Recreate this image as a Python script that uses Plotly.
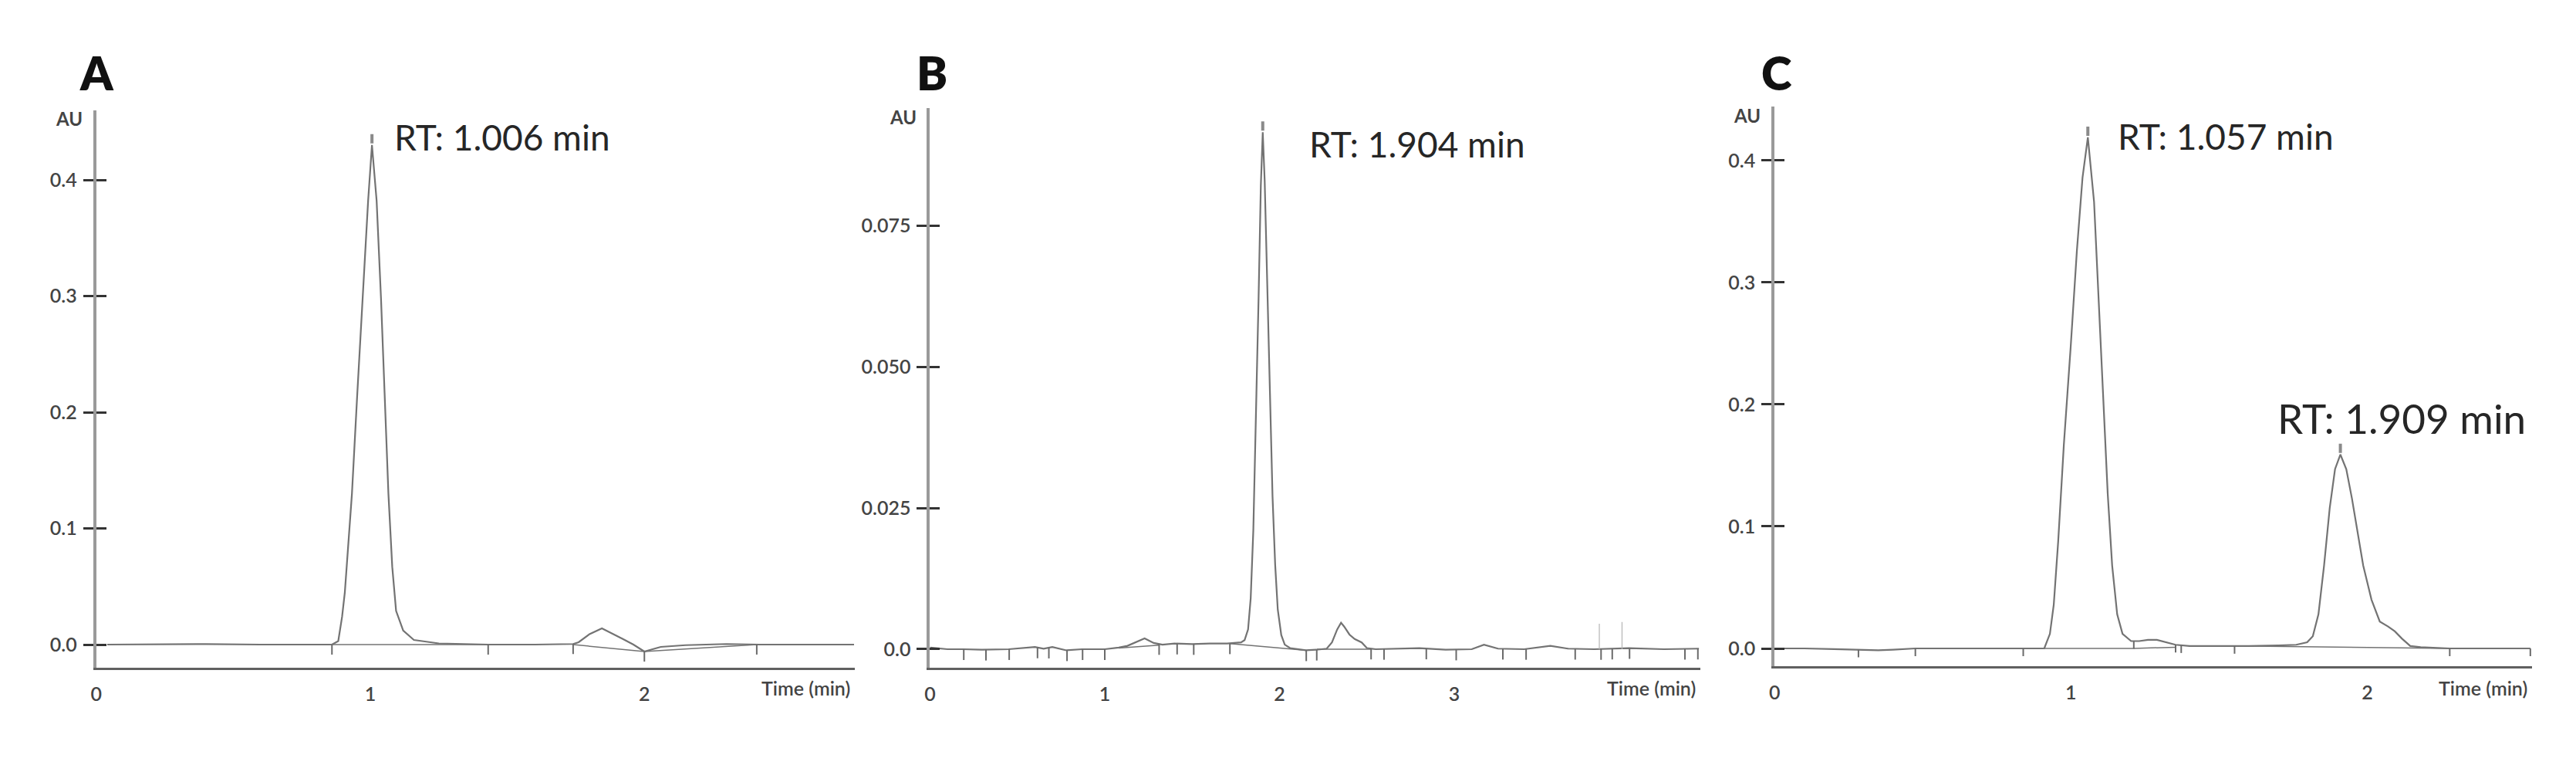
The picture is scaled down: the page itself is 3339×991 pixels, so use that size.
import numpy as np
import plotly.graph_objects as go

W, H = 3339, 991

# ---------------------------------------------------------------------------
# DATA
# ---------------------------------------------------------------------------

# Panel A
A_T = [0.04, 0.2, 0.4, 0.6, 0.8, 0.86, 0.883, 0.897, 0.907, 0.92, 0.933, 0.952,
       0.972, 0.992, 1.006, 1.023, 1.039, 1.053, 1.066, 1.08, 1.094, 1.12, 1.159,
       1.25, 1.43, 1.6, 1.74, 1.76, 1.80, 1.845, 1.88, 1.92, 1.96, 2.0, 2.03,
       2.06, 2.15, 2.3, 2.42, 2.55, 2.70, 2.765]
A_V = [0.0, 0.0003, 0.0004, 0.0, 0.0, 0.0, 0.003, 0.024, 0.045, 0.088, 0.13, 0.214,
       0.298, 0.382, 0.43, 0.382, 0.298, 0.214, 0.13, 0.067, 0.029, 0.012, 0.004,
       0.001, 0.0, 0.0, 0.0005, 0.002, 0.009, 0.014, 0.010, 0.005, 0.0, -0.006, -0.004,
       -0.002, -0.0005, 0.0005, 0.0, 0.0, 0.0003, 0.0]
A_TICKS = [0.86, 1.43, 1.74, 2.0, 2.41]
A_BASE_T = [[0.86, 1.43], [1.74, 2.0], [2.0, 2.41]]
A_BASE_V = [[0.0, 0.0], [0.0, -0.006], [-0.006, 0.0]]
A_APEX = [1.006]
A_YTICKS = [0.0, 0.1, 0.2, 0.3, 0.4]
A_YTEXT = ["0.0", "0.1", "0.2", "0.3", "0.4"]
A_XTICKS = [0, 1, 2]

# Panel B
B_T = [0.0, 0.05, 0.1, 0.19, 0.3, 0.45, 0.55, 0.6, 0.65, 0.7, 0.78, 0.87, 1.0,
       1.08, 1.13, 1.18, 1.228, 1.28, 1.33, 1.4, 1.5, 1.6, 1.7, 1.78, 1.80, 1.82,
       1.835, 1.85, 1.865, 1.88, 1.893, 1.904, 1.915, 1.93, 1.945, 1.96, 1.975,
       1.99, 2.01, 2.03, 2.06, 2.10, 2.15, 2.21, 2.27, 2.30, 2.33, 2.352, 2.37,
       2.40, 2.43, 2.47, 2.50, 2.55, 2.65, 2.8, 2.95, 3.1, 3.17, 3.25, 3.4, 3.55,
       3.65, 3.8, 4.0, 4.2, 4.4]
B_V = [0.0003, 0.0002, 0.0, 0.0, -0.0001, 0.0, 0.0002, 0.0004, 0.0001, 0.0004,
       -0.0002, 0.0, 0.0, 0.0003, 0.0006, 0.0013, 0.0019, 0.0011, 0.0008, 0.0010,
       0.0009, 0.0010, 0.0010, 0.0012, 0.0016, 0.0035, 0.009, 0.021, 0.040, 0.062,
       0.082, 0.0915, 0.083, 0.064, 0.044, 0.027, 0.015, 0.007, 0.0025, 0.0008,
       0.0002, 0.0, -0.0002, -0.0001, 0.0001, 0.0012, 0.0035, 0.0047, 0.0040,
       0.0026, 0.0018, 0.0012, 0.0002, 0.0, 0.0001, 0.0002, -0.0001, 0.0, 0.0008,
       0.0001, 0.0, 0.0006, 0.0001, 0.0, 0.0002, 0.0, 0.0001]
B_TICKS = [0.193, 0.320, 0.453, 0.615, 0.680, 0.784, 0.873, 1.000, 1.311, 1.414,
           1.509, 1.716, 2.153, 2.213, 2.524, 2.598, 2.840, 3.011, 3.278, 3.411,
           3.692, 3.840, 3.904, 4.003, 4.320, 4.394]
B_BASE_T = [[1.08, 1.311], [1.716, 2.153], [2.213, 2.524]]
B_BASE_V = [[0.0002, 0.0007], [0.0010, -0.0002], [0.0, 0.0]]
B_SPIKE_T = [3.83, 3.96]
B_SPIKE_V = [0.0045, 0.0048]
B_APEX = [1.904]
B_YTICKS = [0.0, 0.025, 0.050, 0.075]
B_YTEXT = ["0.0", "0.025", "0.050", "0.075"]
B_XTICKS = [0, 1, 2, 3]

# Panel C
C_T = [0.0, 0.1, 0.2, 0.283, 0.35, 0.4, 0.475, 0.6, 0.75, 0.839, 0.91, 0.929,
       0.942, 0.957, 0.976, 0.999, 1.020, 1.039, 1.057, 1.078, 1.093, 1.108, 1.124,
       1.139, 1.156, 1.174, 1.203, 1.23, 1.26, 1.29, 1.32, 1.353, 1.40, 1.5, 1.6,
       1.7, 1.76, 1.797, 1.816, 1.835, 1.854, 1.873, 1.891, 1.909, 1.929, 1.948,
       1.967, 1.986, 2.014, 2.042, 2.070, 2.093, 2.117, 2.145, 2.18, 2.278, 2.4,
       2.55]
C_V = [0.0, 0.0, -0.0005, -0.001, -0.0015, -0.001, 0.0, 0.0, 0.0, 0.0, 0.0, 0.012,
       0.036, 0.088, 0.167, 0.247, 0.326, 0.386, 0.419, 0.366, 0.287, 0.207, 0.127,
       0.068, 0.028, 0.012, 0.006, 0.006, 0.007, 0.007, 0.005, 0.003, 0.002, 0.002,
       0.002, 0.0025, 0.003, 0.005, 0.010, 0.028, 0.068, 0.115, 0.147, 0.159, 0.147,
       0.123, 0.096, 0.068, 0.040, 0.022, 0.018, 0.014, 0.008, 0.002, 0.001, 0.0,
       0.0, 0.0]
C_TICKS = [0.283, 0.475, 0.839, 1.212, 1.353, 1.372, 1.552, 2.278, 2.55]
C_BASE_T = [[0.839, 1.212], [1.212, 1.353], [1.552, 2.278]]
C_BASE_V = [[0.0, 0.0], [0.0, 0.001], [0.002, 0.0]]
C_APEX = [1.057, 1.909]
C_YTICKS = [0.0, 0.1, 0.2, 0.3, 0.4]
C_YTEXT = ["0.0", "0.1", "0.2", "0.3", "0.4"]
C_XTICKS = [0, 1, 2]

RT_LABELS = ["RT: 1.006 min", "RT: 1.904 min", "RT: 1.057 min", "RT: 1.909 min"]

# ---------------------------------------------------------------------------
# STYLE / GEOMETRY (pixels of the 3339x991 canvas)
# ---------------------------------------------------------------------------

FONT = "Lato, 'Open Sans', sans-serif"
TRACE = "#737373"
TICK_TXT = "#444444"

PANELS = [
    dict(T=A_T, V=A_V, ticks=A_TICKS, bt=A_BASE_T, bv=A_BASE_V, apex=A_APEX,
         st=[], sv=[], yt=A_YTICKS, ytx=A_YTEXT, xt=A_XTICKS,
         x0=110, x1=1095, ytop=135, ybot=857, xr=[0, 2.767], yr=[-0.01993, 0.4598],
         hang=13),
    dict(T=B_T, V=B_V, ticks=B_TICKS, bt=B_BASE_T, bv=B_BASE_V, apex=B_APEX,
         st=B_SPIKE_T, sv=B_SPIKE_V, yt=B_YTICKS, ytx=B_YTEXT, xt=B_XTICKS,
         x0=1193, x1=2194, ytop=132, ybot=857, xr=[0, 4.41], yr=[-0.00328, 0.09577],
         hang=14),
    dict(T=C_T, V=C_V, ticks=C_TICKS, bt=C_BASE_T, bv=C_BASE_V, apex=C_APEX,
         st=[], sv=[], yt=C_YTICKS, ytx=C_YTEXT, xt=C_XTICKS,
         x0=2290, x1=3274, ytop=130, ybot=855, xr=[0, 2.556], yr=[-0.01456, 0.4443],
         hang=10),
]

RT_POS = [(495, 169, 46), (1684, 178, 46), (2734, 168, 46), (2941, 533, 53)]


def px(x):
    return x / W


def py(y):
    return 1 - y / H


def segments(ts, v0, v1):
    xs, ys = [], []
    for t, a, b in zip(ts, v0, v1):
        xs += [t, t, None]
        ys += [a, b, None]
    return xs, ys


fig = go.Figure()
layout = {}

for i, p in enumerate(PANELS):
    n = "" if i == 0 else str(i + 1)
    xa, ya = "x" + n, "y" + n
    upp = (p["yr"][1] - p["yr"][0]) / (p["ybot"] - p["ytop"])  # data units per pixel

    # signal
    fig.add_trace(go.Scatter(x=p["T"], y=p["V"], mode="lines", xaxis=xa, yaxis=ya,
                             line=dict(color=TRACE, width=2.2), hoverinfo="skip"))
    # integration baselines
    bx, by = [], []
    for t, v in zip(p["bt"], p["bv"]):
        bx += t + [None]
        by += v + [None]
    fig.add_trace(go.Scatter(x=bx, y=by, mode="lines", xaxis=xa, yaxis=ya,
                             line=dict(color=TRACE, width=1.5), hoverinfo="skip"))
    # integration event ticks hanging below the trace
    lev = np.interp(p["ticks"], p["T"], p["V"])
    tx, ty = segments(p["ticks"], lev, lev - p["hang"] * upp)
    fig.add_trace(go.Scatter(x=tx, y=ty, mode="lines", xaxis=xa, yaxis=ya,
                             line=dict(color="#6a6a6a", width=2), hoverinfo="skip"))
    # thin event spikes
    if p["st"]:
        sx, sy = segments(p["st"], [0.0] * len(p["st"]), p["sv"])
        fig.add_trace(go.Scatter(x=sx, y=sy, mode="lines", xaxis=xa, yaxis=ya,
                                 line=dict(color="#b4b4b4", width=1.2), hoverinfo="skip"))
    # apex markers
    av = np.interp(p["apex"], p["T"], p["V"])
    mx, my = segments(p["apex"], av + 2 * upp, av + 14 * upp)
    fig.add_trace(go.Scatter(x=mx, y=my, mode="lines", xaxis=xa, yaxis=ya,
                             line=dict(color="#8a8a8a", width=4), hoverinfo="skip"))

    dom_x = [px(p["x0"]), px(p["x1"])]
    dom_y = [py(p["ybot"]), py(p["ytop"])]
    layout["xaxis" + n] = dict(
        domain=dom_x, range=p["xr"], anchor=ya, tickvals=p["xt"],
        ticktext=[str(v) for v in p["xt"]], ticks="", showgrid=False, zeroline=False,
        showline=True, linecolor="#606060", linewidth=3,
        tickfont=dict(family=FONT, size=25, color=TICK_TXT, weight=600),
        ticklabelstandoff=10,
    )
    layout["yaxis" + n] = dict(
        domain=dom_y, range=p["yr"], anchor=xa, tickvals=p["yt"], ticktext=p["ytx"],
        ticks="outside", ticklen=13, tickwidth=3, tickcolor="#333333",
        showgrid=False, zeroline=False, showline=True, linecolor="#9a9a9a", linewidth=4,
        tickfont=dict(family=FONT, size=25, color=TICK_TXT, weight=600),
        ticklabelstandoff=3,
    )
    # overlay axis: inner half of the crossing y ticks
    k = str(i + 4)
    layout["yaxis" + k] = dict(
        overlaying=ya, anchor=xa, side="left", range=p["yr"], tickvals=p["yt"],
        ticks="inside", ticklen=13, tickwidth=3, tickcolor="#333333",
        showticklabels=False, showgrid=False, zeroline=False, showline=False,
    )
    fig.add_trace(go.Scatter(x=[None], y=[None], xaxis=xa, yaxis="y" + k,
                             mode="lines", hoverinfo="skip"))

    # "Time (min)" at the right end of the time axis
    fig.add_annotation(text="Time (min)", xref="paper", yref="paper",
                       x=px(p["x1"] - 4), y=py(883), xanchor="right", yanchor="middle",
                       showarrow=False,
                       font=dict(family=FONT, size=25, color=TICK_TXT, weight=600))
    # AU label
    fig.add_annotation(text="AU", xref="paper", yref="paper",
                       x=px(p["x0"] - 16), y=py(p["ytop"] + 11), xanchor="right",
                       yanchor="middle", showarrow=False,
                       font=dict(family=FONT, size=24, color=TICK_TXT, weight=700))

# panel letters
for letter, x in zip(["A", "B", "C"], [111, 1196, 2293]):
    fig.add_annotation(text=letter, xref="paper", yref="paper", x=px(x), y=py(86),
                       xanchor="center", yanchor="middle", showarrow=False,
                       font=dict(family=FONT, size=60, color="#111111", weight=800))

# retention time labels
for txt, (x, y, s) in zip(RT_LABELS, RT_POS):
    fig.add_annotation(text=txt, xref="paper", yref="paper", x=px(x), y=py(y),
                       xanchor="left", yanchor="middle", showarrow=False,
                       font=dict(family=FONT, size=s, color="#262626"))

fig.update_layout(
    **layout,
    width=W, height=H, autosize=False,
    margin=dict(l=0, r=0, t=0, b=0),
    paper_bgcolor="white", plot_bgcolor="white",
    showlegend=False, hovermode=False,
)

fig.write_html("out.html")
